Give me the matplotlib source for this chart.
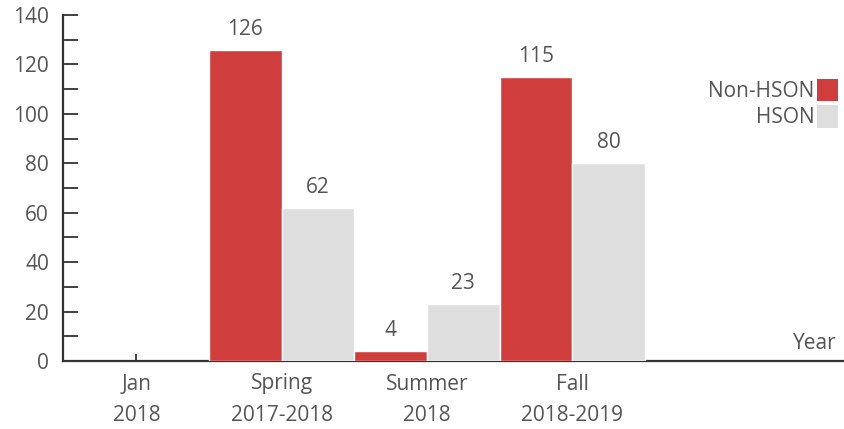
import numpy as np
import matplotlib.pyplot as plt

categories = ["Jan\n2018", "Spring\n2017-2018", "Summer\n2018", "Fall\n2018-2019"]
non_hson = [0, 126, 4, 115]
hson = [0, 62, 23, 80]

red = "#D03D3D"
grey = "#DEDEDE"
txt = "#555555"

plt.rcParams["font.family"] = ["Open Sans", "DejaVu Sans"]

fig = plt.figure(figsize=(8.44, 4.29), dpi=100)
ax = fig.add_axes([63 / 844, 1 - 361 / 429, 1 - 63 / 844, (361 - 15) / 429])

x = np.arange(len(categories))
w = 0.5
for xi, a, b in zip(x, non_hson, hson):
    if a > 0:
        ax.bar(xi - w / 2, a, w, color=red, edgecolor="white", linewidth=1, zorder=3)
        ax.text(xi - w / 2, a + 4.0, str(a), ha="center", va="bottom", fontsize=15, color=txt)
    if b > 0:
        ax.bar(xi + w / 2, b, w, color=grey, edgecolor="white", linewidth=1, zorder=3)
        ax.text(xi + w / 2, b + 4.0, str(b), ha="center", va="bottom", fontsize=15, color=txt)

# legend handles
ax.bar([0], [0], color=red, label="Non-HSON")
ax.bar([0], [0], color=grey, label="HSON")
ax.legend(loc="upper right", bbox_to_anchor=(1.003, 0.84), frameon=False, markerfirst=False,
          fontsize=15, labelcolor=txt, handlelength=1.0, handleheight=1.3,
          handletextpad=0.12, labelspacing=0.15, borderaxespad=0)

ax.set_xlim(-0.505, 4.87)
ax.set_ylim(0, 140)
ax.set_yticks(range(0, 141, 20))
ax.set_yticks(range(10, 141, 20), minor=True)
ax.set_xticks(x)
ax.set_xticklabels(categories, linespacing=1.65)

for s in ["top", "right"]:
    ax.spines[s].set_visible(False)
for s in ["left", "bottom"]:
    ax.spines[s].set_color("#333333")
    ax.spines[s].set_linewidth(1.6)
    ax.spines[s].set_zorder(2)

ax.tick_params(axis="y", which="both", direction="in", length=11, width=1.3,
               color="#333333", labelsize=15, labelcolor=txt, pad=10)
ax.tick_params(axis="x", direction="in", length=5, width=1.3, color="#333333",
               labelsize=15, labelcolor=txt, pad=9)

ax.text(0.99, 0.02, "Year", transform=ax.transAxes, ha="right", va="bottom",
        fontsize=15, color=txt)

fig.savefig("out.png", dpi=100)
